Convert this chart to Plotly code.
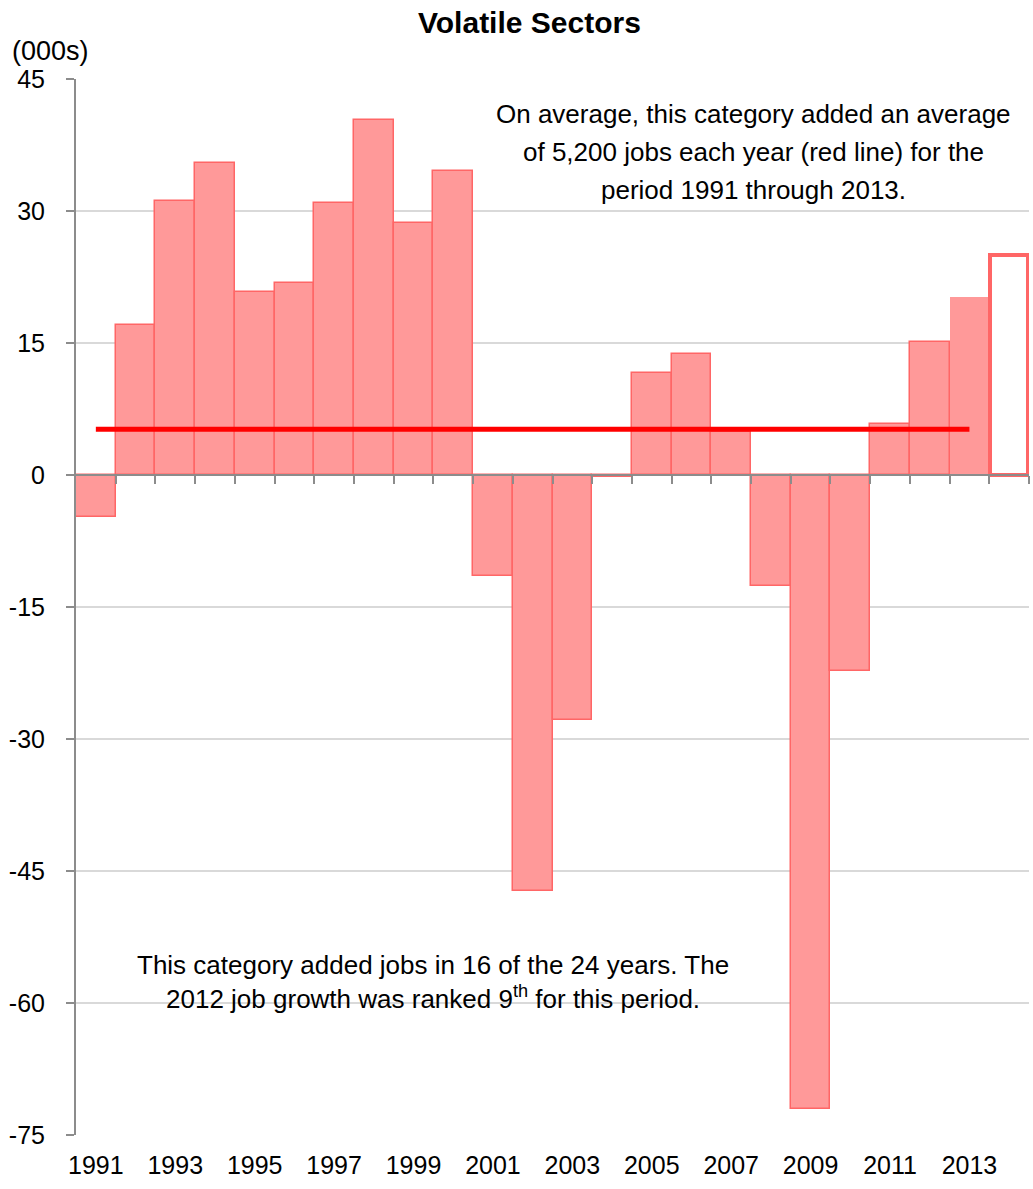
import plotly.graph_objects as go

years = list(range(1991, 2013))
values = [-4.8, 17.0, 31.1, 35.5, 20.8, 21.8, 30.9, 40.3, 28.6, 34.6,
          -11.5, -47.3, -27.8, -0.2, 11.6, 13.7, 4.9, -12.6, -72.1, -22.3,
          5.8, 15.1]
year_2013 = [2013]
value_2013 = [20.2]
year_2014 = [2014]
value_2014 = [25.0]
avg_years = [1991, 2013]
avg_value = 5.2
y_ticks = [45, 30, 15, 0, -15, -30, -45, -60, -75]
x_tick_years = list(range(1991, 2014, 2))
note_top_lines = ["On average, this category added an average",
                  "of 5,200 jobs each year (red line) for the",
                  "period 1991 through 2013."]
note_bottom = ("This category added jobs in 16 of the 24 years. The<br>"
               "2012 job growth was ranked 9<sup>th</sup> for this period.")

FONT = "Liberation Sans Narrow, Arial Narrow, Liberation Sans, Arial, sans-serif"
FILL = "rgb(255,153,153)"
EDGE = "rgb(255,102,102)"
AXIS = "#8C8C8C"

fig = go.Figure()
fig.add_trace(go.Bar(x=years, y=values, width=1,
                     marker=dict(color=FILL, line=dict(color=EDGE, width=1.5)),
                     showlegend=False))
fig.add_trace(go.Bar(x=year_2013, y=value_2013, width=1,
                     marker=dict(color=FILL, line=dict(width=0)),
                     showlegend=False))
fig.add_trace(go.Bar(x=year_2014, y=value_2014, width=0.96,
                     marker=dict(color="white", line=dict(color=EDGE, width=4)),
                     showlegend=False))
fig.add_trace(go.Scatter(x=avg_years, y=[avg_value] * len(avg_years), mode="lines",
                         line=dict(color="#FF0000", width=5),
                         xaxis="x2", yaxis="y", showlegend=False))

boundaries = [y + 0.5 for y in range(1991, 2015)]

annotations = [
    dict(text="<b>Volatile Sectors</b>", xref="paper", yref="paper",
         x=(529 - 76) / 953, y=1 + (79 - 22) / 1056, xanchor="center",
         yanchor="middle", showarrow=False,
         font=dict(family=FONT, size=30, color="black")),
    dict(text="(000s)", xref="paper", yref="paper",
         x=(10 - 76) / 953, y=1 + (79 - 51) / 1056, xanchor="left",
         yanchor="middle", showarrow=False,
         font=dict(family=FONT, size=27, color="black")),
    dict(text=note_bottom, xref="paper", yref="paper",
         x=(433 - 76) / 953, y=1 - (982 - 79) / 1056, xanchor="center",
         yanchor="middle", align="center", showarrow=False,
         font=dict(family=FONT, size=26, color="black")),
]
for i, line in enumerate(note_top_lines):
    annotations.append(dict(text=line, xref="paper", yref="paper",
                            x=(753 - 76) / 953, y=1 - (114 + 38 * i - 79) / 1056,
                            xanchor="center", yanchor="middle", showarrow=False,
                            font=dict(family=FONT, size=26, color="black")))

fig.update_layout(
    width=1033, height=1189,
    margin=dict(l=76, r=4, t=79, b=54),
    paper_bgcolor="white", plot_bgcolor="white",
    barmode="overlay", bargap=0,
    font=dict(family=FONT, size=25, color="black"),
    xaxis=dict(type="linear", range=[1990.5, 2014.5], tickvals=x_tick_years,
               ticktext=[str(v) for v in x_tick_years],
               showgrid=False, showline=False, zeroline=False, ticks="",
               ticklabelstandoff=13,
               tickfont=dict(family=FONT, size=25, color="black")),
    xaxis2=dict(type="linear", range=[1990.5, 2014.5], overlaying="x",
                anchor="free", position=0.625, side="bottom",
                tickvals=boundaries, showticklabels=False,
                showgrid=False, zeroline=False, showline=True,
                linecolor=AXIS, linewidth=2, ticks="outside", ticklen=8,
                tickwidth=2, tickcolor=AXIS),
    yaxis=dict(range=[-75, 45], tickvals=y_ticks,
               ticktext=[str(v) for v in y_ticks],
               showgrid=True, gridcolor="#D9D9D9", gridwidth=2,
               zeroline=False, showline=True, linecolor=AXIS, linewidth=2,
               ticks="outside", ticklen=8, tickwidth=2, tickcolor=AXIS,
               ticklabelstandoff=16,
               tickfont=dict(family=FONT, size=25, color="black")),
    annotations=annotations,
)

fig.write_html("out.html", config={"displayModeBar": False},
               post_script="document.body.style.margin='0px';document.body.style.overflow='hidden';")
